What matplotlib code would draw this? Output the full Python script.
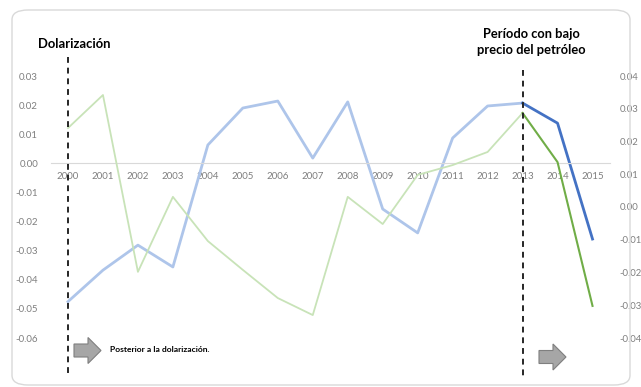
import matplotlib.pyplot as plt
from matplotlib.patches import FancyBboxPatch, FancyArrow

years = list(range(2000, 2016))
# serie azul (eje izquierdo)
azul = [-0.0475, -0.0367, -0.0281, -0.0356, 0.0063, 0.0190, 0.0214, 0.0018,
        0.0211, -0.0157, -0.0239, 0.0087, 0.0197, 0.0207, 0.0138, -0.0260]
# serie verde (eje derecho)
verde = [0.0241, 0.0342, -0.0198, 0.0031, -0.0104, -0.0192, -0.0278, -0.0330,
         0.0031, -0.0052, 0.0098, 0.0128, 0.0168, 0.0287, 0.0137, -0.0302]
left_ticks = [0.03, 0.02, 0.01, 0.00, -0.01, -0.02, -0.03, -0.04, -0.05, -0.06]
right_ticks = [0.04, 0.03, 0.02, 0.01, 0.00, -0.01, -0.02, -0.03, -0.04]

plt.rcParams['font.family'] = ['Lato', 'DejaVu Sans']
gray = '#7f7f7f'

fig = plt.figure(figsize=(6.41, 3.87), dpi=100)
fig.patches.append(FancyBboxPatch((12/641, 2/387), 618/641, 375/387,
                                  boxstyle="round,pad=0,rounding_size=0.025",
                                  transform=fig.transFigure, fill=False,
                                  edgecolor='#d9d9d9', lw=1))

ax = fig.add_axes([50.5/641, 49/387, 559.5/641, 262/387])
ax2 = ax.twinx()

i13 = years.index(2013)
ax.plot(years[:i13+1], azul[:i13+1], color='#aec5ea', lw=2.0)
ax.plot(years[i13:], azul[i13:], color='#4472c4', lw=2.0)
ax2.plot(years[:i13+1], verde[:i13+1], color='#c8e3b8', lw=1.3)
ax2.plot(years[i13:], verde[i13:], color='#70ad47', lw=1.5)

ax.set_xlim(1999.5, 2015.5)
ax.set_ylim(-0.06, 0.03)
ax2.set_ylim(-0.04, 0.04)
ax.set_yticks(left_ticks)
ax.set_yticklabels(['%.2f' % v for v in left_ticks])
ax2.set_yticks(right_ticks)
ax2.set_yticklabels(['%.2f' % v for v in right_ticks])
ax.set_xticks(years)
ax.set_xticklabels([str(y) for y in years])

for a in (ax, ax2):
    for s in ('top', 'left', 'right', 'bottom'):
        a.spines[s].set_visible(False)
    a.tick_params(axis='both', length=0, labelsize=7, labelcolor=gray, pad=9)
ax2.tick_params(axis='y', pad=7, labelsize=6.8)
ax.spines['bottom'].set_visible(True)
ax.spines['bottom'].set_position(('data', 0))
ax.spines['bottom'].set_color('#d9d9d9')
ax.tick_params(axis='x', pad=6)
ax.patch.set_visible(False)

# líneas verticales
for yr, top in [(2000, 57), (2013, 70)]:
    fig.add_artist(plt.Line2D([ax.transData.transform((yr, 0))[0]/641]*2,
                              [1 - top/387, 1 - 377/387],
                              transform=fig.transFigure, color='#262626',
                              lw=1.4, ls=(0, (3, 2.5))))

fig.text(38/641, 1 - 44/387, 'Dolarización', fontsize=9.4, fontweight='bold',
         ha='left', va='center')
fig.text(531/641, 1 - 42/387, 'Período con bajo\nprecio del petróleo', fontsize=9.3,
         fontweight='bold', ha='center', va='center', linespacing=1.3)
fig.text(110/641, 1 - 350/387, 'Posterior a la dolarización.', fontsize=6.1,
         fontweight='bold', ha='left', va='center')

for x0, yc in [(74, 350.5), (539, 357)]:
    fig.patches.append(FancyArrow(x0/641, 1 - yc/387, 27/641, 0,
                                  width=13/387, head_width=26/387, head_length=13/641,
                                  length_includes_head=True, transform=fig.transFigure,
                                  facecolor='#a6a6a6', edgecolor='#7f7f7f', lw=0.8))

fig.savefig('out.png', dpi=100)
